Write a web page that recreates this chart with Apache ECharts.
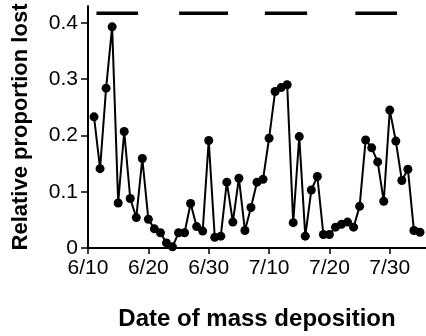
<!DOCTYPE html>
<html>
<head>
<meta charset="utf-8">
<script src="https://cdn.jsdelivr.net/npm/echarts@6/dist/echarts.min.js"></script>
<style>html,body{margin:0;padding:0;background:#fff}#c{width:426px;height:336px}</style>
</head>
<body>
<div id="c"></div>
<script>
// Dates of mass deposition (month/day) and relative proportion lost
const dates = [
  "6/11","6/12","6/13","6/14","6/15","6/16","6/17","6/18","6/19","6/20",
  "6/21","6/22","6/23","6/24","6/25","6/26","6/27","6/28","6/29","6/30",
  "7/1","7/2","7/3","7/4","7/5","7/6","7/7","7/8","7/9","7/10",
  "7/11","7/12","7/13","7/14","7/15","7/16","7/17","7/18","7/19","7/20",
  "7/21","7/22","7/23","7/24","7/25","7/26","7/27","7/28","7/29","7/30","7/31",
  "8/1","8/2","8/3","8/4"
];
const proportionLost = [
  0.233,0.141,0.284,0.393,0.080,0.207,0.088,0.054,0.159,0.051,
  0.034,0.027,0.009,0.002,0.027,0.027,0.079,0.038,0.030,0.191,
  0.019,0.021,0.117,0.046,0.124,0.031,0.072,0.117,0.122,0.195,
  0.278,0.285,0.290,0.045,0.198,0.021,0.103,0.127,0.024,0.024,
  0.037,0.042,0.046,0.037,0.074,0.192,0.178,0.153,0.083,0.245,0.190,
  0.120,0.140,0.031,0.028
];
// Horizontal period bars across the top: [start, end] in days after 6/10
const periodBars = [[1.4, 8.3], [15.1, 23.2], [29.3, 36.3], [44.3, 51.2]];
const periodBarLevel = 0.417;
const xTickLabels = ["6/10","6/20","6/30","7/10","7/20","7/30"];
const yTickLabels = ["0","0.1","0.2","0.3","0.4"];

const monthStart = {6: 0, 7: 30, 8: 61};
function dayOffset(s) { const p = s.split("/"); return monthStart[+p[0]] + (+p[1]) - 10; }

const points = dates.map((d, i) => [dayOffset(d), proportionLost[i]]);
const xTicks = xTickLabels.map(dayOffset);
const yTicks = yTickLabels.map(Number);

const series = [{
  type: 'line', data: points, symbol: 'circle', symbolSize: 9,
  itemStyle: {color: '#000'}, lineStyle: {color: '#000', width: 2},
  animation: false, z: 3
}];
periodBars.forEach(b => series.push({
  type: 'line', data: [[b[0], periodBarLevel], [b[1], periodBarLevel]],
  showSymbol: false, symbol: 'none', lineStyle: {color: '#000', width: 3.5}, animation: false
}));

const chart = echarts.init(document.getElementById('c'));
chart.setOption({
  animation: false,
  grid: {left: 88, right: 0, top: 6, bottom: 82},
  xAxis: {
    type: 'value', min: 0, max: 56, interval: 10,
    name: 'Date of mass deposition', nameLocation: 'middle', nameGap: 59,
    nameTextStyle: {fontFamily: 'Liberation Sans', fontWeight: 'bold', fontSize: 24, color: '#000'},
    axisLine: {lineStyle: {color: '#000', width: 2}},
    axisTick: {customValues: xTicks, length: 6, lineStyle: {color: '#000', width: 1.5}},
    axisLabel: {customValues: xTicks, formatter: v => xTickLabels[xTicks.indexOf(v)] || '',
      fontFamily: 'Liberation Sans', fontSize: 21, color: '#000', margin: 10},
    splitLine: {show: false}
  },
  yAxis: {
    type: 'value', min: 0, max: 0.43, interval: 0.1,
    name: 'Relative proportion lost', nameLocation: 'middle', nameGap: 56,
    nameTextStyle: {fontFamily: 'Liberation Sans', fontWeight: 'bold', fontSize: 22, color: '#000'},
    axisLine: {lineStyle: {color: '#000', width: 2}},
    axisTick: {customValues: yTicks, length: 7, lineStyle: {color: '#000', width: 1.5}},
    axisLabel: {customValues: yTicks, formatter: v => yTickLabels[yTicks.indexOf(v)] || '',
      fontFamily: 'Liberation Sans', fontSize: 21, color: '#000', margin: 10},
    splitLine: {show: false}
  },
  series: series
});
</script>
</body>
</html>
